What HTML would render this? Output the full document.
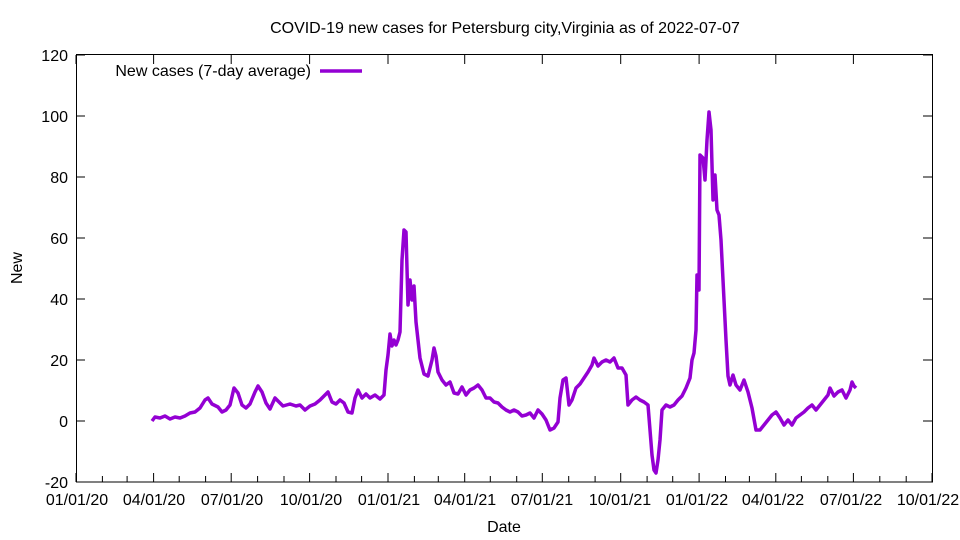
<!DOCTYPE html>
<html><head><meta charset="utf-8"><style>html,body{margin:0;padding:0;background:#fff}svg{display:block}text{font-family:"Liberation Sans",sans-serif;font-size:16px;fill:#000}</style></head><body>
<svg width="960" height="540" viewBox="0 0 960 540" xmlns="http://www.w3.org/2000/svg">
<rect x="0" y="0" width="960" height="540" fill="#fff"/>
<text x="505" y="33" text-anchor="middle">COVID-19 new cases for Petersburg city,Virginia as of 2022-07-07</text>
<g stroke="#000" stroke-width="1" fill="none">
<rect x="76.5" y="54.5" width="856" height="427.5"/>
<path d="M76 421h9M932 421h-9M76 360h9M932 360h-9M76 299h9M932 299h-9M76 238h9M932 238h-9M76 177h9M932 177h-9M76 116h9M932 116h-9M76 55h9M932 55h-9"/>
</g>
<g text-anchor="end">
<text x="68" y="488">-20</text><text x="68" y="427">0</text><text x="68" y="366">20</text><text x="68" y="305">40</text><text x="68" y="244">60</text><text x="68" y="183">80</text><text x="68" y="122">100</text><text x="68" y="61">120</text>
</g>
<g text-anchor="middle">
<text x="77" y="505">01/01/20</text><text x="154" y="505">04/01/20</text><text x="232" y="505">07/01/20</text><text x="311" y="505">10/01/20</text><text x="389" y="505">01/01/21</text><text x="465" y="505">04/01/21</text><text x="542" y="505">07/01/21</text><text x="620" y="505">10/01/21</text><text x="697" y="505">01/01/22</text><text x="773" y="505">04/01/22</text><text x="851" y="505">07/01/22</text><text x="928" y="505">10/01/22</text>
<text x="504" y="532">Date</text>
<text x="22" y="268" transform="rotate(-90 22 268)">New</text>
</g>
<g stroke="#000" stroke-width="1">
<path d="M76 482v-9M102.4 482v-6M127.1 482v-6M153.6 482v-9M179.2 482v-6M205.6 482v-6M231.2 482v-9M257.6 482v-6M284 482v-6M309.6 482v-9M336 482v-6M361.6 482v-6M388 482v-9M414.4 482v-6M438.3 482v-6M464.7 482v-9M490.3 482v-6M516.7 482v-6M542.3 482v-9M568.7 482v-6M595.1 482v-6M620.7 482v-9M647.1 482v-6M672.7 482v-6M699.1 482v-9M725.5 482v-6M749.4 482v-6M775.8 482v-9M801.4 482v-6M827.8 482v-6M853.4 482v-9M879.8 482v-6M906.2 482v-6M932 482v-9"/>
<path d="M76 55v9M153.6 55v9M231.2 55v9M309.6 55v9M388 55v9M464.7 55v9M542.3 55v9M620.7 55v9M699.1 55v9M775.8 55v9M853.4 55v9"/>
</g>
<text x="311" y="76" text-anchor="end">New cases (7-day average)</text>
<path d="M320 71h42" stroke="#9400d3" stroke-width="3.5"/>
<polyline fill="none" stroke="#9400d3" stroke-width="3.5" stroke-linejoin="round" points="152,421 155,417 160,418 165,416 170,419 175,417 180,418 185,416 190,413 195,412 200,408 205,400 208,398 212,404 218,407 222,412 226,410 230,405 234,388 238,393 242,405 246,408 250,404 255,392 258,386 262,392 266,403 270,409 275,398 279,402 283,406 290,404 296,406 300,405 305,410 310,406 315,404 320,400 325,395 328,392 332,402 336,404 340,400 344,403 348,412 352,413 355,398 358,390 362,398 366,394 370,398 375,395 380,399 384,395 386,370 388,355 390,334 392,346 394,340 396,345 398,340 400,332 402,260 404,230 406,232 408,305 410,280 412,300 414,286 416,322 418,340 420,358 424,374 428,376 432,360 434,348 436,356 438,372 442,380 446,385 450,382 454,393 458,394 462,387 466,395 470,390 474,388 478,385 482,390 486,398 490,398 494,402 498,403 502,407 506,410 510,412 514,410 518,412 522,416 526,415 530,413 534,418 538,410 542,414 546,420 550,430 554,428 558,422 560,398 563,380 566,378 569,405 572,400 576,388 580,384 584,378 588,372 592,365 594,358 598,366 602,362 606,360 610,362 614,358 618,368 622,368 626,375 628,405 632,400 636,397 640,400 644,402 648,405 650,430 652,455 654,470 656,473 658,460 660,440 662,410 666,405 670,407 674,405 678,400 682,396 686,388 690,378 692,360 694,353 696,330 697,275 699,290 700,155 703,158 705,180 707,140 709,112 711,130 713,200 715,175 717,210 719,215 721,240 724,300 726,340 728,376 730,385 733,375 736,385 740,390 744,380 748,392 752,408 756,430 760,430 764,425 768,420 772,415 776,412 780,418 784,425 788,420 792,425 796,418 800,415 804,412 808,408 812,405 816,410 820,405 824,400 828,395 830,388 834,396 838,392 842,390 846,398 850,390 852,382 854,386 856,388"/>
</svg>
</body></html>
